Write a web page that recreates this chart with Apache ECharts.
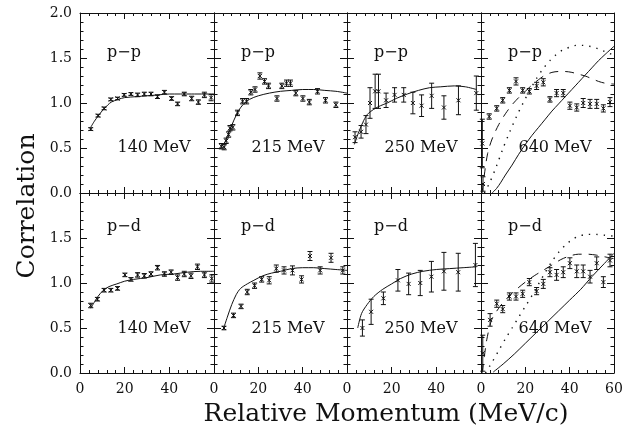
<!DOCTYPE html>
<html>
<head>
<meta charset="utf-8">
<title>Correlation vs relative momentum</title>
<script src="https://cdn.jsdelivr.net/npm/echarts@6/dist/echarts.min.js"></script>
<style>
  html, body { margin: 0; padding: 0; background: #fff; }
  #corrChart { width: 636px; height: 430px; }
</style>
</head>
<body>
<div id="corrChart"></div>
<script>
// axis ranges / ticks
const xTicks = [0, 20, 40, 60]
const yTicks = [0, 0.5, 1.0, 1.5, 2.0]

// panel labels
const pairNames = ['p−p', 'p−d']
const energies = ['140 MeV', '215 MeV', '250 MeV', '640 MeV']

// measured points: [q (MeV/c), correlation, error]
const pp140 = [[4.8, 0.71, 0.015], [8.1, 0.86, 0.015], [10.8, 0.94, 0.015], [13.8, 1.04, 0.015], [16.8, 1.05, 0.015], [19.8, 1.09, 0.015], [22.8, 1.10, 0.015], [25.8, 1.09, 0.02], [28.8, 1.10, 0.02], [31.8, 1.10, 0.02], [34.7, 1.07, 0.02], [37.8, 1.12, 0.02], [41, 1.05, 0.02], [43.7, 0.99, 0.02], [46.7, 1.10, 0.02], [50, 1.05, 0.025], [53, 1.01, 0.025], [55.7, 1.09, 0.03], [58.7, 1.06, 0.035]]
const pp215 = [[3.3, 0.52, 0.03], [4.6, 0.51, 0.03], [5.5, 0.58, 0.03], [6.6, 0.65, 0.03], [7.2, 0.72, 0.03], [8.5, 0.73, 0.03], [10.6, 0.89, 0.03], [12.9, 1.02, 0.03], [14.7, 1.02, 0.03], [16.6, 1.12, 0.03], [18.5, 1.15, 0.03], [20.7, 1.30, 0.035], [22.8, 1.24, 0.03], [24.6, 1.19, 0.03], [28.4, 1.05, 0.03], [30.6, 1.19, 0.03], [32.7, 1.22, 0.035], [34.5, 1.22, 0.035], [36.9, 1.11, 0.03], [40.1, 1.05, 0.03], [43, 1.01, 0.03], [46.7, 1.13, 0.03], [50.3, 1.03, 0.03], [55, 0.98, 0.03]]
const pp250 = [[3.6, 0.62, 0.06], [6.3, 0.68, 0.07], [8.5, 0.76, 0.1], [10.3, 1.00, 0.17], [12.6, 1.13, 0.19], [14.1, 1.13, 0.19], [17.5, 1.03, 0.08], [21.3, 1.09, 0.08], [25.4, 1.09, 0.08], [29.5, 1.00, 0.12], [33.4, 0.97, 0.12], [37.9, 1.08, 0.14], [43.4, 0.95, 0.13], [49.9, 1.03, 0.16], [57.9, 1.11, 0.19]]
const pp640 = [[0.6, 0.55, 0.27], [0.9, 0.10, 0.08], [3.7, 0.85, 0.03], [7.1, 0.94, 0.03], [9.8, 1.03, 0.03], [12.8, 1.14, 0.03], [15.8, 1.24, 0.04], [18.8, 1.14, 0.03], [21.8, 1.13, 0.03], [25.1, 1.19, 0.04], [28.1, 1.23, 0.04], [31.1, 1.04, 0.03], [34.1, 1.11, 0.04], [37.1, 1.11, 0.04], [40.1, 0.97, 0.04], [43.2, 0.95, 0.04], [46.1, 1.00, 0.05], [49.2, 0.99, 0.05], [52.2, 0.99, 0.05], [55.2, 0.94, 0.04], [58.2, 1.01, 0.05]]
const pd140 = [[4.8, 0.75, 0.025], [7.8, 0.82, 0.02], [10.8, 0.92, 0.02], [13.8, 0.92, 0.02], [16.8, 0.94, 0.02], [20.1, 1.09, 0.02], [22.8, 1.04, 0.02], [25.8, 1.09, 0.025], [28.8, 1.08, 0.025], [31.8, 1.10, 0.025], [34.7, 1.17, 0.025], [37.8, 1.10, 0.025], [40.8, 1.12, 0.025], [43.7, 1.06, 0.03], [46.7, 1.10, 0.03], [49.7, 1.08, 0.03], [52.6, 1.18, 0.03], [55.7, 1.09, 0.03], [59, 1.05, 0.04]]
const pd215 = [[4.5, 0.50, 0.02], [8.8, 0.64, 0.025], [12.2, 0.74, 0.025], [15, 0.90, 0.03], [18.3, 0.97, 0.03], [21.5, 1.04, 0.03], [24.9, 1.03, 0.04], [28.1, 1.16, 0.04], [31.6, 1.14, 0.04], [35.4, 1.14, 0.05], [39.5, 1.04, 0.04], [43.3, 1.30, 0.05], [47.9, 1.14, 0.04], [52.8, 1.28, 0.05], [58.1, 1.14, 0.04]]
const pd250 = [[6.9, 0.50, 0.09], [10.8, 0.68, 0.14], [16.3, 0.83, 0.07], [22.8, 1.03, 0.12], [27.6, 0.99, 0.12], [32.8, 1.00, 0.14], [37.8, 1.07, 0.17], [43.4, 1.13, 0.21], [49.8, 1.12, 0.21], [57.5, 1.20, 0.24]]
const pd640 = [[0.8, 0.22, 0.2], [4.1, 0.59, 0.07], [7.1, 0.77, 0.04], [9.8, 0.71, 0.04], [12.8, 0.85, 0.04], [15.8, 0.85, 0.04], [18.8, 0.88, 0.04], [21.8, 1.01, 0.04], [25.1, 0.91, 0.04], [28.1, 0.99, 0.05], [31.1, 1.12, 0.05], [34.1, 1.09, 0.06], [37.1, 1.12, 0.06], [40.1, 1.22, 0.06], [43.2, 1.13, 0.07], [46.1, 1.13, 0.07], [49.2, 1.07, 0.07], [52.2, 1.22, 0.07], [55.2, 1.01, 0.06], [58.2, 1.25, 0.07]]

// model curves: [q, correlation]
const pp140Fit = [[4.8, 0.73], [6.5, 0.80], [8, 0.85], [9.5, 0.90], [11, 0.94], [12.5, 0.98], [14, 1.01], [17, 1.04], [20, 1.06], [25, 1.07], [30, 1.08], [35, 1.09], [40, 1.10], [50, 1.10], [60, 1.10]]
const pp215Fit = [[3, 0.50], [5, 0.57], [7, 0.69], [9, 0.81], [11, 0.91], [13, 0.98], [16, 1.04], [20, 1.08], [25, 1.11], [30, 1.13], [35, 1.14], [40, 1.15], [45, 1.15], [50, 1.14], [55, 1.13], [60, 1.11]]
const pp250Fit = [[3.3, 0.54], [5, 0.66], [7, 0.78], [9, 0.87], [12, 0.93], [15, 0.97], [18, 1.00], [22, 1.05], [27, 1.10], [32, 1.14], [37, 1.17], [42, 1.18], [48, 1.19], [53, 1.18], [58, 1.15]]
const pp640Solid = [[5, 0.0], [7, 0.05], [9, 0.12], [11, 0.20], [14, 0.31], [17, 0.43], [20, 0.54], [23, 0.64], [26, 0.73], [29, 0.82], [32, 0.91], [35, 0.99], [38, 1.07], [41, 1.15], [44, 1.23], [47, 1.31], [50, 1.39], [53, 1.47], [56, 1.54], [60, 1.63]]
const pp640Dashed = [[0.5, 0.0], [1.5, 0.2], [3, 0.44], [5, 0.60], [8, 0.76], [11, 0.88], [14, 0.98], [17, 1.06], [20, 1.13], [23, 1.20], [26, 1.26], [29, 1.31], [32, 1.34], [35, 1.35], [38, 1.35], [41, 1.34], [44, 1.32], [47, 1.30], [50, 1.27], [53, 1.24], [56, 1.22], [60, 1.21]]
const pp640Dotted = [[1.5, 0.0], [4, 0.12], [7, 0.30], [10, 0.50], [13, 0.68], [16, 0.85], [19, 1.00], [22, 1.14], [25, 1.27], [28, 1.38], [31, 1.47], [34, 1.54], [37, 1.59], [40, 1.62], [43, 1.64], [46, 1.64], [49, 1.63], [52, 1.61], [55, 1.58], [58, 1.55], [60, 1.53]]
const pd140Fit = [[4.8, 0.72], [6.5, 0.79], [8, 0.85], [10.5, 0.92], [13, 0.96], [16.5, 0.99], [20, 1.02], [24, 1.04], [30, 1.06], [36, 1.09], [42, 1.10], [48, 1.12], [54, 1.13], [60, 1.13]]
const pd215Fit = [[4.4, 0.50], [6, 0.62], [8, 0.76], [10, 0.87], [12, 0.94], [15, 0.99], [18, 1.03], [22, 1.08], [26, 1.11], [30, 1.13], [35, 1.16], [40, 1.17], [45, 1.17], [50, 1.16], [55, 1.15], [60, 1.14]]
const pd250Fit = [[4.8, 0.50], [6.5, 0.66], [9, 0.76], [12, 0.85], [16, 0.93], [20, 0.99], [24, 1.05], [29, 1.10], [34, 1.13], [40, 1.15], [46, 1.16], [52, 1.17], [58, 1.18]]
const pd640Solid = [[5.5, 0.01], [10, 0.10], [15, 0.21], [20, 0.33], [25, 0.45], [30, 0.57], [35, 0.69], [40, 0.81], [45, 0.93], [50, 1.07], [55, 1.20], [60, 1.33]]
const pd640Dashed = [[0.5, 0.0], [1.5, 0.18], [2.6, 0.37], [4.8, 0.59], [8, 0.72], [12, 0.84], [16, 0.93], [20, 1.01], [24, 1.08], [28, 1.14], [32, 1.20], [36, 1.26], [40, 1.30], [44, 1.32], [48, 1.32], [52, 1.31], [56, 1.29], [60, 1.27]]
const pd640Dotted = [[2, 0.0], [5, 0.12], [8, 0.25], [11, 0.38], [14, 0.50], [17, 0.62], [20, 0.74], [23, 0.86], [26, 0.99], [29, 1.12], [32, 1.24], [35, 1.34], [38, 1.42], [41, 1.48], [44, 1.52], [48, 1.54], [52, 1.54], [56, 1.53], [60, 1.52]]

const panelPoints = [pp140, pp215, pp250, pp640, pd140, pd215, pd250, pd640]
const panelSolid = [pp140Fit, pp215Fit, pp250Fit, pp640Solid, pd140Fit, pd215Fit, pd250Fit, pd640Solid]
const panelDashed = [null, null, null, pp640Dashed, null, null, null, pd640Dashed]
const panelDotted = [null, null, null, pp640Dotted, null, null, null, pd640Dotted]

// layout
const colLeft = [80, 214, 347, 481]
const colWidth = [134, 133, 134, 133]
const rowTop = [13, 193]
const rowHeight = 180
const FONT = 'DejaVu Serif'
const INK = '#111'

const grids = []
const xAxes = []
const yAxes = []
const series = []
const graphics = []

function xAxis (k, row, col, pos) {
  return {
    type: 'value',
    gridIndex: k,
    position: pos,
    min: xTicks[0],
    max: xTicks[xTicks.length - 1],
    interval: xTicks[1] - xTicks[0],
    axisLine: { show: true, onZero: false, lineStyle: { color: INK, width: 1 } },
    axisTick: { show: true, inside: true, length: 6, lineStyle: { color: INK } },
    minorTick: { show: true, splitNumber: 5, length: 3, lineStyle: { color: INK } },
    splitLine: { show: false },
    axisLabel: {
      show: pos === 'bottom' && row === 1,
      showMaxLabel: col === 3,
      margin: 9,
      fontFamily: FONT,
      fontSize: 14,
      color: INK
    }
  }
}

function yAxis (k, row, col, pos) {
  return {
    type: 'value',
    gridIndex: k,
    position: pos,
    min: yTicks[0],
    max: yTicks[yTicks.length - 1],
    interval: yTicks[1] - yTicks[0],
    axisLine: { show: true, onZero: false, lineStyle: { color: INK, width: 1 } },
    axisTick: { show: true, inside: true, length: 7, lineStyle: { color: INK } },
    minorTick: { show: true, splitNumber: 5, length: 3.5, lineStyle: { color: INK } },
    splitLine: { show: false },
    axisLabel: {
      show: pos === 'left' && col === 0,
      showMaxLabel: row === 0,
      margin: 8,
      fontFamily: FONT,
      fontSize: 14,
      color: INK,
      formatter: v => v.toFixed(1)
    }
  }
}

function curve (k, data, dash, width) {
  return {
    type: 'line',
    xAxisIndex: 2 * k,
    yAxisIndex: 2 * k,
    data: data,
    symbol: 'none',
    smooth: 0.3,
    clip: true,
    silent: true,
    lineStyle: { color: INK, width: width, type: dash }
  }
}

function errorBars (k, data) {
  return {
    type: 'custom',
    xAxisIndex: 2 * k,
    yAxisIndex: 2 * k,
    data: data,
    silent: true,
    z: 3,
    renderItem (params, api) {
      const q = api.value(0)
      const c = api.value(1)
      const e = api.value(2)
      const p = api.coord([q, c])
      const lo = api.coord([q, Math.max(0, c - e)])
      const hi = api.coord([q, Math.min(2, c + e)])
      const style = { stroke: INK, lineWidth: 1 }
      const seg = (x1, y1, x2, y2) => ({ type: 'line', shape: { x1, y1, x2, y2 }, style })
      return {
        type: 'group',
        children: [
          seg(p[0], lo[1], p[0], hi[1]),
          seg(p[0] - 2.5, lo[1], p[0] + 2.5, lo[1]),
          seg(p[0] - 2.5, hi[1], p[0] + 2.5, hi[1]),
          seg(p[0] - 2, p[1] - 2, p[0] + 2, p[1] + 2),
          seg(p[0] - 2, p[1] + 2, p[0] + 2, p[1] - 2)
        ]
      }
    }
  }
}

for (let row = 0; row < 2; row++) {
  for (let col = 0; col < 4; col++) {
    const k = row * 4 + col
    grids.push({ left: colLeft[col], top: rowTop[row], width: colWidth[col], height: rowHeight })
    xAxes.push(xAxis(k, row, col, 'bottom'), xAxis(k, row, col, 'top'))
    yAxes.push(yAxis(k, row, col, 'left'), yAxis(k, row, col, 'right'))

    series.push(curve(k, panelSolid[k], 'solid', 1))
    if (panelDashed[k]) series.push(curve(k, panelDashed[k], [9, 7], 1))
    if (panelDotted[k]) series.push(curve(k, panelDotted[k], [1.4, 6], 1.4))
    series.push(errorBars(k, panelPoints[k]))

    // panel texts
    graphics.push({
      type: 'text',
      x: colLeft[col] + 44,
      y: row === 0 ? 53 : 227,
      style: { text: pairNames[row], font: '16px "' + FONT + '"', fill: INK, textAlign: 'center', textVerticalAlign: 'middle' }
    })
    graphics.push({
      type: 'text',
      x: colLeft[col] + 74,
      y: row === 0 ? 148 : 329,
      style: { text: energies[col], font: '16px "' + FONT + '"', fill: INK, textAlign: 'center', textVerticalAlign: 'middle' }
    })
  }
}

graphics.push({
  type: 'text',
  x: 27,
  y: 206,
  rotation: Math.PI / 2,
  style: { text: 'Correlation', font: '25px "' + FONT + '"', fill: INK, textAlign: 'center', textVerticalAlign: 'middle' }
})
graphics.push({
  type: 'text',
  x: 386,
  y: 414,
  style: { text: 'Relative Momentum (MeV/c)', font: '25px "' + FONT + '"', fill: INK, textAlign: 'center', textVerticalAlign: 'middle' }
})

const myChart = echarts.init(document.getElementById('corrChart'))
myChart.setOption({
  animation: false,
  backgroundColor: '#fff',
  grid: grids,
  xAxis: xAxes,
  yAxis: yAxes,
  series: series,
  graphic: graphics
})
window.addEventListener('resize', () => myChart.resize())
</script>
</body>
</html>
